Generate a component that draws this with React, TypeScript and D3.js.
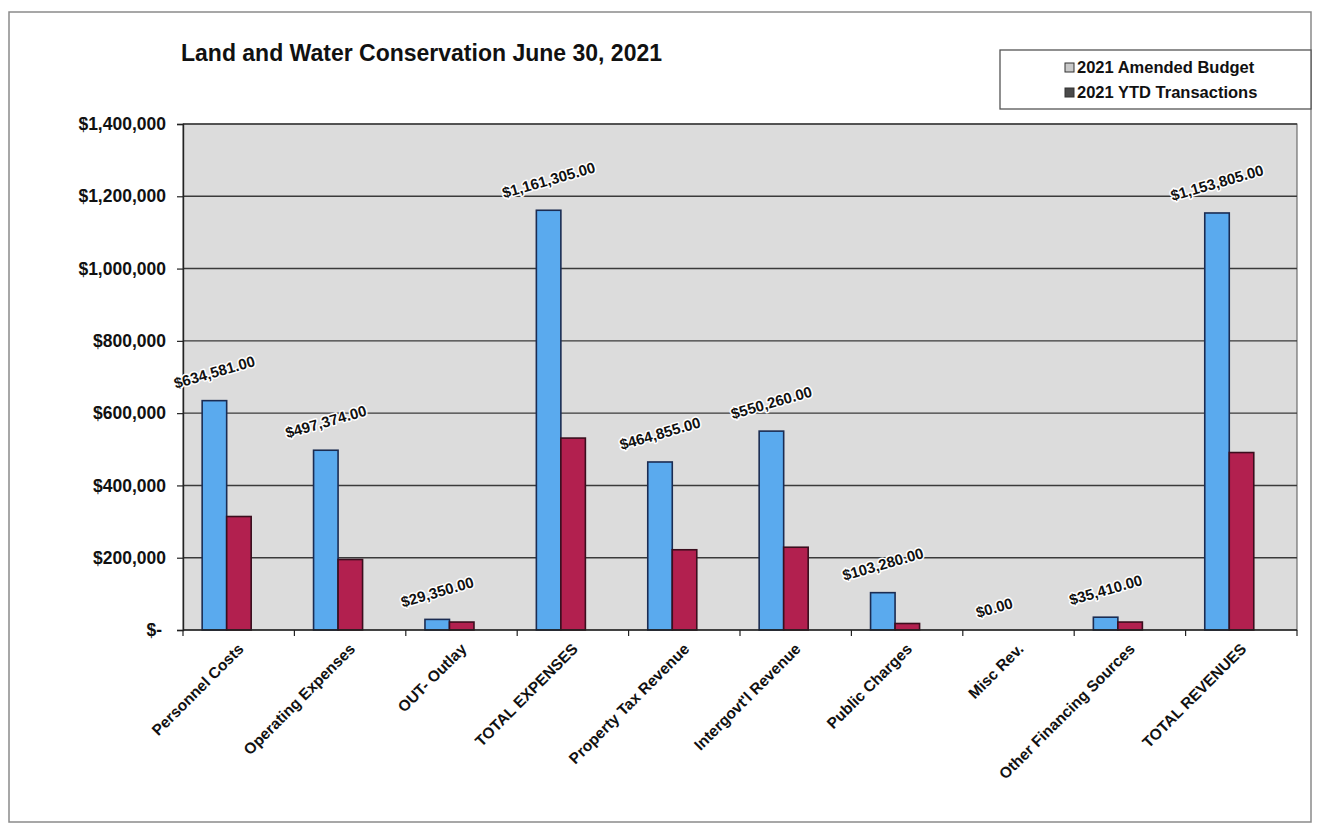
import { useEffect, useRef } from "react";
import * as d3 from "d3";

// values
const categories = [
  "Personnel Costs",
  "Operating Expenses",
  "OUT- Outlay",
  "TOTAL EXPENSES",
  "Property Tax Revenue",
  "Intergovt'l Revenue",
  "Public Charges",
  "Misc Rev.",
  "Other Financing Sources",
  "TOTAL REVENUES",
];

const amendedBudget = [
  634581, 497374, 29350, 1161305, 464855, 550260, 103280, 0, 35410, 1153805,
];

const ytdTransactions = [
  314000, 195000, 22000, 531000, 222000, 229000, 18000, 0, 22000, 491000,
];

const yTicks = [0, 200000, 400000, 600000, 800000, 1000000, 1200000, 1400000];

const seriesNames = ["2021 Amended Budget", "2021 YTD Transactions"];

const title = "Land and Water Conservation June 30, 2021";

const FONT = "'Liberation Sans', Arial, sans-serif";

export default function App() {
  const ref = useRef<SVGSVGElement | null>(null);

  useEffect(() => {
    if (!ref.current) return;
    const svg = d3.select(ref.current);
    svg.selectAll("*").remove();

    const W = 1322;
    const H = 827;
    const plot = { left: 183, right: 1297, top: 124, bottom: 630 };

    // outer frame of the chart
    svg
      .append("rect")
      .attr("x", 9)
      .attr("y", 12)
      .attr("width", 1302)
      .attr("height", 810)
      .attr("fill", "#fff")
      .attr("stroke", "#8a8a8a")
      .attr("stroke-width", 1.5);

    svg
      .append("text")
      .attr("x", 181)
      .attr("y", 61)
      .attr("font-family", FONT)
      .attr("font-weight", "bold")
      .attr("font-size", 23)
      .attr("fill", "#111")
      .text(title);

    const x = d3
      .scaleBand<string>()
      .domain(categories)
      .range([plot.left, plot.right])
      .paddingInner(0)
      .paddingOuter(0);

    const y = d3
      .scaleLinear()
      .domain([0, 1400000])
      .range([plot.bottom, plot.top]);

    // inner band for the two series, sits a bit left of band centre (as in the original)
    const bw = x.bandwidth();
    const inner = d3
      .scaleBand<number>()
      .domain([0, 1])
      .range([bw * 0.172, bw * 0.612]);

    // plot area
    svg
      .append("rect")
      .attr("x", plot.left)
      .attr("y", plot.top)
      .attr("width", plot.right - plot.left)
      .attr("height", plot.bottom - plot.top)
      .attr("fill", "#dcdcdc")
      .attr("stroke", "#555")
      .attr("stroke-width", 1);

    // gridlines
    svg
      .append("g")
      .selectAll("line")
      .data(yTicks.filter((d) => d > 0))
      .join("line")
      .attr("x1", plot.left)
      .attr("x2", plot.right)
      .attr("y1", (d) => y(d))
      .attr("y2", (d) => y(d))
      .attr("stroke", "#3a3a3a")
      .attr("stroke-width", 1.4);

    // y axis
    const yAxis = svg
      .append("g")
      .attr("transform", `translate(${plot.left},0)`)
      .call(
        d3
          .axisLeft(y)
          .tickValues(yTicks)
          .tickSize(6)
          .tickPadding(11)
          .tickFormat((d) =>
            +d === 0 ? "$-" : "$" + d3.format(",")(+d)
          )
      );
    yAxis.select(".domain").attr("stroke", "#222").attr("stroke-width", 1.4);
    yAxis.selectAll("line").attr("stroke", "#222").attr("stroke-width", 1.2);
    yAxis
      .selectAll("text")
      .attr("font-family", FONT)
      .attr("font-weight", "bold")
      .attr("font-size", 17.5)
      .attr("fill", "#111")
      .attr("dx", (d: any) => (+d === 0 ? -4 : 0));

    // bars
    const series = [
      { values: amendedBudget, fill: "#5aaaee", stroke: "#1b2c52" },
      { values: ytdTransactions, fill: "#b2204f", stroke: "#3b0e1e" },
    ];
    series.forEach((s, si) => {
      svg
        .append("g")
        .selectAll("rect")
        .data(categories)
        .join("rect")
        .attr("x", (c) => (x(c) ?? 0) + (inner(si) ?? 0))
        .attr("y", (c, i) => y(s.values[i]))
        .attr("width", inner.bandwidth())
        .attr("height", (c, i) => y(0) - y(s.values[i]))
        .attr("fill", s.fill)
        .attr("stroke", s.stroke)
        .attr("stroke-width", 1.6);
    });

    // x axis
    const xAxisG = svg.append("g");
    xAxisG
      .append("line")
      .attr("x1", plot.left)
      .attr("x2", plot.right)
      .attr("y1", y(0))
      .attr("y2", y(0))
      .attr("stroke", "#222")
      .attr("stroke-width", 1.4);
    const bounds = categories.map((c) => x(c) ?? 0).concat([plot.right]);
    xAxisG
      .selectAll("line.tick")
      .data(bounds)
      .join("line")
      .attr("class", "tick")
      .attr("x1", (d) => d)
      .attr("x2", (d) => d)
      .attr("y1", y(0))
      .attr("y2", y(0) + 6)
      .attr("stroke", "#222")
      .attr("stroke-width", 1.2);

    xAxisG
      .selectAll("text")
      .data(categories)
      .join("text")
      .attr("transform", (c) => {
        const cx = (x(c) ?? 0) + bw / 2 + 6;
        return `translate(${cx},${y(0) + 20}) rotate(-45)`;
      })
      .attr("text-anchor", "end")
      .attr("font-family", FONT)
      .attr("font-weight", "bold")
      .attr("font-size", 15.5)
      .attr("fill", "#111")
      .text((c) => c);

    // value labels on the amended budget bars
    const angle = 16;
    const rad = (angle * Math.PI) / 180;
    const labelSize = 15;
    const labels = svg.append("g");
    categories.forEach((c, i) => {
      const v = amendedBudget[i];
      const cx = (x(c) ?? 0) + (inner(0) ?? 0) + inner.bandwidth() / 2;
      const t = labels
        .append("text")
        .attr("text-anchor", "middle")
        .attr("dominant-baseline", "central")
        .attr("font-family", FONT)
        .attr("font-weight", "bold")
        .attr("font-size", labelSize)
        .attr("fill", "#111")
        .attr("stroke", "#fff")
        .attr("stroke-width", 3)
        .attr("paint-order", "stroke")
        .attr("stroke-linejoin", "round")
        .text("$" + d3.format(",.2f")(v));
      const w = (t.node() as SVGTextElement).getComputedTextLength();
      const off = 10 + (w / 2) * Math.sin(rad) + (labelSize / 2) * Math.cos(rad);
      t.attr("transform", `translate(${cx},${y(v) - off}) rotate(${-angle})`);
    });

    // legend
    const lg = svg.append("g");
    lg.append("rect")
      .attr("x", 1000)
      .attr("y", 50)
      .attr("width", 311)
      .attr("height", 59)
      .attr("fill", "#fff")
      .attr("stroke", "#555")
      .attr("stroke-width", 1.3);
    const markerFill = ["#c9c9c9", "#4a4a4a"];
    seriesNames.forEach((name, i) => {
      const yy = 73 + i * 25;
      lg.append("rect")
        .attr("x", 1065)
        .attr("y", yy - 10)
        .attr("width", 9)
        .attr("height", 9)
        .attr("fill", markerFill[i])
        .attr("stroke", "#333")
        .attr("stroke-width", 1);
      lg.append("text")
        .attr("x", 1077)
        .attr("y", yy)
        .attr("font-family", FONT)
        .attr("font-weight", "bold")
        .attr("font-size", 16.5)
        .attr("fill", "#111")
        .text(name);
    });

    svg.attr("width", W).attr("height", H);
  }, []);

  return (
    <svg
      ref={ref}
      width={1322}
      height={827}
      style={{ position: "absolute", left: 0, top: 0, background: "#fff" }}
    />
  );
}
